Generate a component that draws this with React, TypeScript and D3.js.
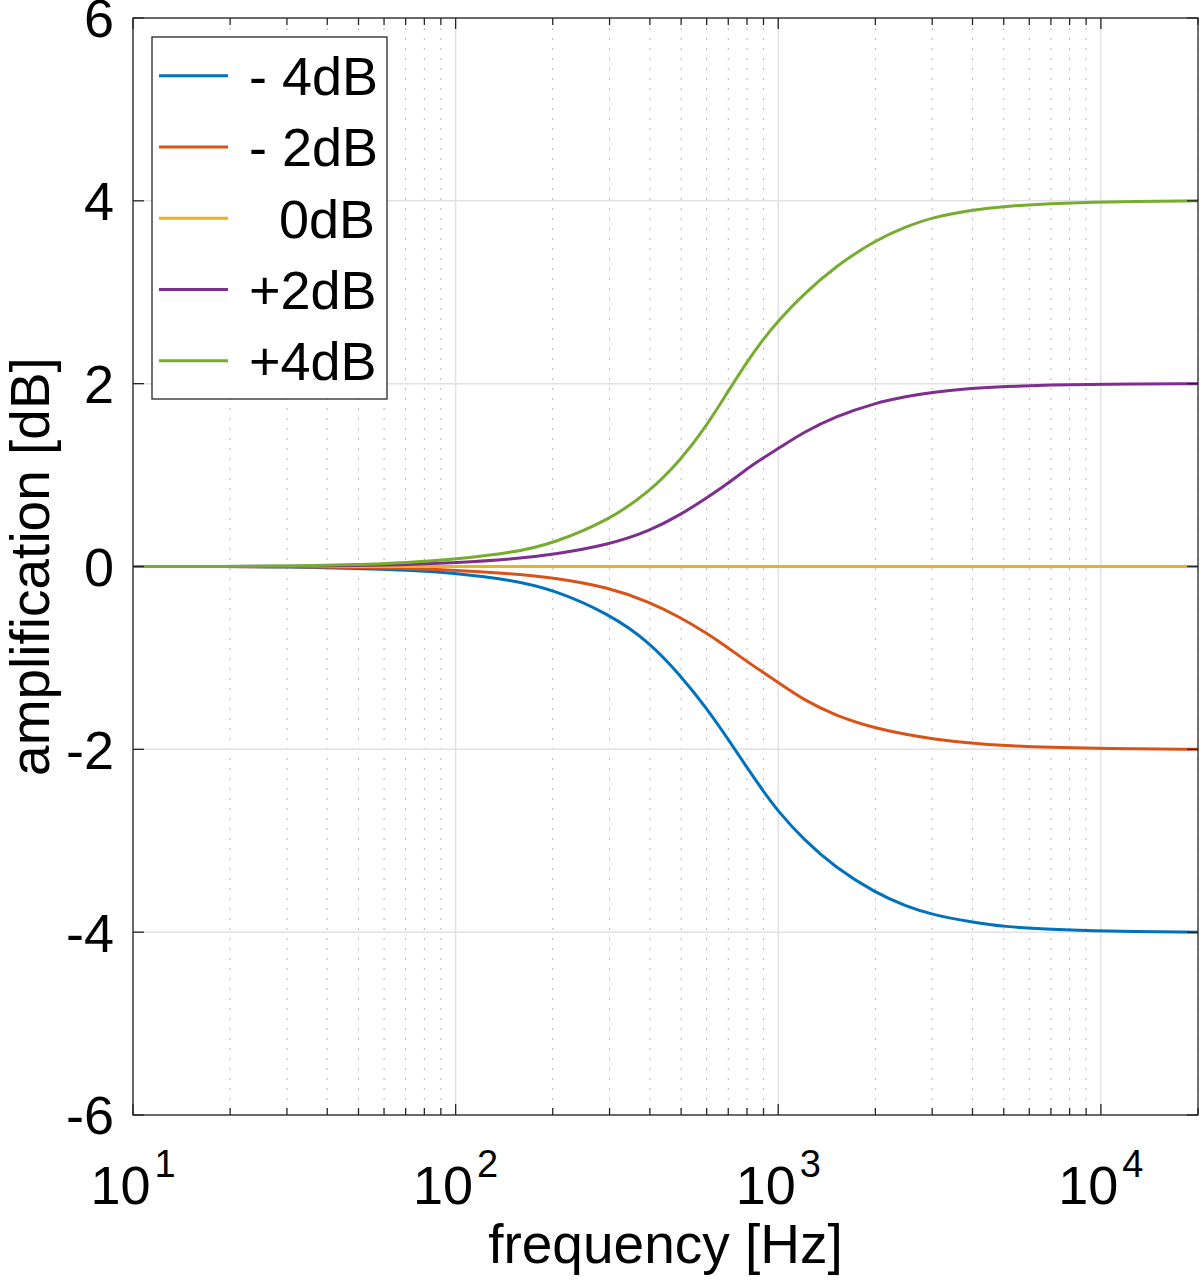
import React from "react";
import * as d3 from "d3";

// frequency samples [Hz]
const freqs = [10, 20, 30, 50, 70, 100, 150, 200, 300, 400, 500, 600, 700, 800, 900, 1000, 1200, 1500, 2000, 2500, 3000, 4000, 5000, 7000, 10000, 20000];

const minus4 = [0, 0, -0.005, -0.02, -0.04, -0.07, -0.15, -0.25, -0.52, -0.83, -1.2, -1.55, -1.89, -2.2, -2.46, -2.68, -2.99, -3.29, -3.57, -3.72, -3.81, -3.89, -3.94, -3.97, -3.99, -4.0];
const minus2 = [0, 0, -0.003, -0.01, -0.02, -0.04, -0.08, -0.12, -0.23, -0.39, -0.56, -0.73, -0.89, -1.04, -1.16, -1.27, -1.46, -1.63, -1.77, -1.84, -1.885, -1.935, -1.96, -1.98, -1.99, -2.0];
const zero = [0, 0, 0, 0, 0, 0, 0, 0, 0, 0, 0, 0, 0, 0, 0, 0, 0, 0, 0, 0, 0, 0, 0, 0, 0, 0];
const plus2 = [0, 0, 0.003, 0.01, 0.02, 0.04, 0.08, 0.13, 0.24, 0.39, 0.57, 0.75, 0.91, 1.07, 1.19, 1.29, 1.47, 1.64, 1.79, 1.86, 1.905, 1.95, 1.97, 1.985, 1.995, 2.0];
const plus4 = [0, 0, 0.005, 0.02, 0.04, 0.08, 0.15, 0.25, 0.51, 0.82, 1.17, 1.54, 1.92, 2.24, 2.49, 2.69, 2.98, 3.28, 3.57, 3.72, 3.82, 3.9, 3.94, 3.97, 3.99, 4.0];

const seriesNames = ["- 4dB", "- 2dB", "  0dB", "+2dB", "+4dB"];
const seriesValues = [minus4, minus2, zero, plus2, plus4];
const colors = ["#0072BD", "#D95319", "#EDB120", "#7E2F8E", "#77AC30"];

const yTicks = [-6, -4, -2, 0, 2, 4, 6];
const xDecades = [1, 2, 3, 4];

const W = 1200;
const H = 1288;
const margin = { left: 133, right: 2, top: 18, bottom: 173 };
const font = "'Liberation Sans', Arial, Helvetica, sans-serif";

const App = () => {
  const x = d3.scaleLog().domain([10, 20000]).range([margin.left, W - margin.right]);
  const y = d3.scaleLinear().domain([-6, 6]).range([H - margin.bottom, margin.top]);
  const [x0, x1] = x.range();
  const [yb, yt] = y.range();

  // minor ticks 2..9 in each decade
  const minor: number[] = [];
  for (let e = 1; e <= 4; e++) {
    for (let m = 2; m <= 9; m++) {
      const f = m * Math.pow(10, e);
      if (f <= 20000) minor.push(f);
    }
  }
  const major = xDecades.map((e) => Math.pow(10, e));

  const line = d3
    .line<number>()
    .x((_, i) => x(freqs[i]))
    .y((d) => y(d))
    .curve(d3.curveBasis);

  const legend = { x: 152, y: 37, w: 235, h: 362, row: 71.25 };

  return (
    <svg
      width={W}
      height={H}
      style={{ position: "absolute", left: 0, top: 0, background: "#fff" }}
      fontFamily={font}
    >
      <defs>
        <clipPath id="plot-clip">
          <rect x={x0} y={yt} width={x1 - x0} height={yb - yt} />
        </clipPath>
      </defs>

      {/* grid */}
      <g>
        {minor.map((f) => (
          <line key={"mg" + f} x1={x(f)} x2={x(f)} y1={yt} y2={yb} stroke="#b8b8b8" strokeWidth={1} strokeDasharray="2,8" />
        ))}
        {major.map((f) => (
          <line key={"Mg" + f} x1={x(f)} x2={x(f)} y1={yt} y2={yb} stroke="#e2e2e2" strokeWidth={1.5} />
        ))}
        {yTicks.map((t) => (
          <line key={"yg" + t} x1={x0} x2={x1} y1={y(t)} y2={y(t)} stroke="#e2e2e2" strokeWidth={1.5} />
        ))}
      </g>

      {/* curves */}
      <g clipPath="url(#plot-clip)">
        {seriesValues.map((vals, i) => (
          <path key={seriesNames[i]} d={line(vals) || ""} fill="none" stroke={colors[i]} strokeWidth={3} />
        ))}
      </g>

      {/* box + ticks */}
      <g stroke="#262626" strokeWidth={1.3}>
        <rect x={x0} y={yt} width={x1 - x0} height={yb - yt} fill="none" />
        {major.map((f) => (
          <g key={"Mt" + f}>
            <line x1={x(f)} x2={x(f)} y1={yb} y2={yb - 11} />
            <line x1={x(f)} x2={x(f)} y1={yt} y2={yt + 11} />
          </g>
        ))}
        {minor.map((f) => (
          <g key={"mt" + f}>
            <line x1={x(f)} x2={x(f)} y1={yb} y2={yb - 7} />
            <line x1={x(f)} x2={x(f)} y1={yt} y2={yt + 7} />
          </g>
        ))}
        {yTicks.map((t) => (
          <g key={"yt" + t}>
            <line x1={x0} x2={x0 + 11} y1={y(t)} y2={y(t)} />
            <line x1={x1} x2={x1 - 11} y1={y(t)} y2={y(t)} />
          </g>
        ))}
      </g>

      {/* y tick labels */}
      {yTicks.map((t) => (
        <text key={"yl" + t} x={x0 - 19} y={y(t)} dy="0.36em" textAnchor="end" fontSize={54} fill="#000">
          {t < 0 ? "-" + Math.abs(t) : String(t)}
        </text>
      ))}

      {/* x tick labels */}
      {xDecades.map((e) => (
        <text key={"xl" + e} x={x(Math.pow(10, e))} y={1204} textAnchor="middle" fontSize={54} fill="#000">
          <tspan>10</tspan>
          <tspan dx={4} dy={-27} fontSize={38}>{e}</tspan>
        </text>
      ))}

      {/* axis labels */}
      <text x={(x0 + x1) / 2} y={1263} textAnchor="middle" fontSize={55} fill="#000">
        frequency [Hz]
      </text>
      <text transform={`translate(49,${(yt + yb) / 2}) rotate(-90)`} textAnchor="middle" fontSize={55} fill="#000">
        amplification [dB]
      </text>

      {/* legend */}
      <g>
        <rect x={legend.x} y={legend.y} width={legend.w} height={legend.h} fill="#fff" stroke="#262626" strokeWidth={1.3} />
        {seriesNames.map((name, i) => {
          const cy = 75.7 + i * legend.row;
          return (
            <g key={"lg" + name}>
              <line x1={159} x2={228} y1={cy} y2={cy} stroke={colors[i]} strokeWidth={3} />
              <text x={249} y={cy} dy="0.36em" fontSize={54} fill="#000" style={{ whiteSpace: "pre" }}>
                {name}
              </text>
            </g>
          );
        })}
      </g>
    </svg>
  );
};

export default App;
